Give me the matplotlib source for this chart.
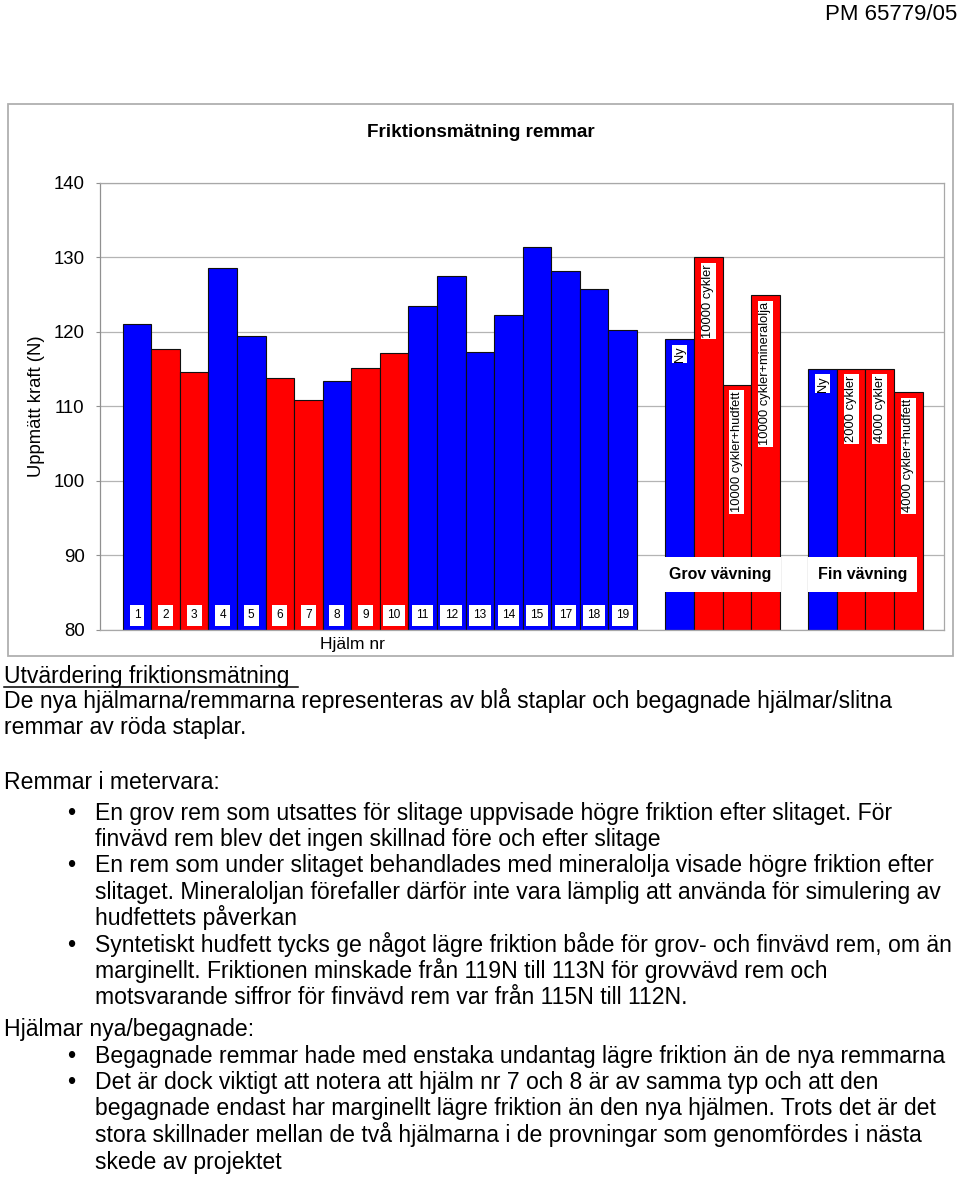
import matplotlib
matplotlib.use("Agg")
import matplotlib.pyplot as plt
from matplotlib.patches import Rectangle
from matplotlib.lines import Line2D

plt.rcParams['font.family'] = ['Liberation Sans', 'DejaVu Sans']

# --- data -------------------------------------------------------------
helmet_labels = ["1", "2", "3", "4", "5", "6", "7", "8", "9", "10",
                 "11", "12", "13", "14", "15", "17", "18", "19"]
helmet_values = [121.1, 117.7, 114.6, 128.6, 119.4, 113.8, 110.8, 113.4, 115.1,
                 117.2, 123.5, 127.5, 117.3, 122.3, 131.4, 128.2, 125.8, 120.3]
helmet_used = [0, 1, 1, 0, 0, 1, 1, 0, 1, 1, 0, 0, 0, 0, 0, 0, 0, 0]

grov_labels = ["Ny", "10000 cykler", "10000 cykler+hudfett", "10000 cykler+mineralolja"]
grov_values = [119.0, 130.0, 112.9, 124.9]
grov_used = [0, 1, 1, 1]

fin_labels = ["Ny", "2000 cykler", "4000 cykler", "4000 cykler+hudfett"]
fin_values = [115.0, 115.0, 115.0, 111.9]
fin_used = [0, 1, 1, 1]

yticks = [80, 90, 100, 110, 120, 130, 140]

BLUE = '#0000ff'
RED = '#ff0000'
GRID = '#b4b4b4'

W, H = 960, 1179


def fx(x):
    return x / W


def fy(y):
    return 1 - y / H


fig = plt.figure(figsize=(W / 100, H / 100), dpi=100)

# outer chart frame
fig.add_artist(Rectangle((fx(8), fy(656)), fx(953) - fx(8), fy(104) - fy(656),
                         transform=fig.transFigure, fill=False,
                         edgecolor='#b0b0b0', linewidth=1.3))

ax = fig.add_axes([fx(100), fy(630), fx(944) - fx(100), fy(182.7) - fy(630)])

# positions: helmets, one empty slot, coarse group, one empty slot, fine group
pos_helmet = list(range(len(helmet_values)))
start = len(helmet_values) + 1
pos_grov = list(range(start, start + len(grov_values)))
start = pos_grov[-1] + 2
pos_fin = list(range(start, start + len(fin_values)))

def colors(used):
    return [RED if u else BLUE for u in used]

for pos, vals, used in [(pos_helmet, helmet_values, helmet_used),
                        (pos_grov, grov_values, grov_used),
                        (pos_fin, fin_values, fin_used)]:
    ax.bar(pos, [v - 80 for v in vals], bottom=80, width=1.0,
           color=colors(used), edgecolor='#101010', linewidth=0.8, zorder=2)

# helmet number labels at bar base
for p, lab in zip(pos_helmet, helmet_labels):
    ax.text(p, 81.95, lab, ha='center', va='center', fontsize=8.6, zorder=4,
            bbox=dict(boxstyle='square,pad=0.35', facecolor='white', edgecolor='none'))

# rotated labels at bar top
for pos, vals, labs in [(pos_grov, grov_values, grov_labels),
                        (pos_fin, fin_values, fin_labels)]:
    for p, v, lab in zip(pos, vals, labs):
        ax.annotate(lab, (p, v), xytext=(0, -5), textcoords='offset points',
                    rotation=90, ha='center', va='top', fontsize=9.3, zorder=4,
                    bbox=dict(boxstyle='square,pad=0.12', facecolor='white',
                              edgecolor='none'))

# group captions
for pos, name in [(pos_grov, "Grov vävning"), (pos_fin, "Fin vävning")]:
    xc = (pos[0] + pos[-1]) / 2 - 0.1
    ax.text(xc, 87.45, name, ha='center', va='center', fontsize=11.5,
            fontweight='bold', zorder=4,
            bbox=dict(boxstyle='square,pad=0.6', facecolor='white', edgecolor='none'))

ax.text(7.55, 79.0, "Hjälm nr", ha='center', va='top', fontsize=12.6)

ax.set_ylim(80, 140)
ax.set_yticks(yticks)
ax.set_xlim(-1.295, 28.25)
ax.set_xticks([])
ax.tick_params(axis='y', direction='out', length=3, width=0.8, color='#909090',
               labelsize=13.4, pad=8)
ax.yaxis.grid(True, color=GRID, linewidth=0.9, zorder=0)
ax.set_axisbelow(True)
for s in ax.spines.values():
    s.set_color('#a8a8a8')
    s.set_linewidth(0.9)
ax.spines['left'].set_color('#909090')
ax.set_ylabel("Uppmätt kraft (N)", fontsize=13.3, labelpad=6)

fig.text(fx(481), fy(136.7), "Friktionsmätning remmar", ha='center',
         va='baseline', fontsize=13.6, fontweight='bold')

fig.text(fx(957), fy(19.5), "PM 65779/05", ha='right', va='baseline', fontsize=16)

# --- evaluation text below the chart ---------------------------------
body = [
    (682.7, 0, False, "Utvärdering friktionsmätning "),
    (708.3, 0, False, "De nya hjälmarna/remmarna representeras av blå staplar och begagnade hjälmar/slitna"),
    (734.0, 0, False, "remmar av röda staplar."),
    (789.3, 0, False, "Remmar i metervara:"),
    (820.0, 1, True, "En grov rem som utsattes för slitage uppvisade högre friktion efter slitaget. För"),
    (845.7, 1, False, "finvävd rem blev det ingen skillnad före och efter slitage"),
    (872.3, 1, True, "En rem som under slitaget behandlades med mineralolja visade högre friktion efter"),
    (899.0, 1, False, "slitaget. Mineraloljan förefaller därför inte vara lämplig att använda för simulering av"),
    (925.0, 1, False, "hudfettets påverkan"),
    (951.7, 1, True, "Syntetiskt hudfett tycks ge något lägre friktion både för grov- och finvävd rem, om än"),
    (978.3, 1, False, "marginellt. Friktionen minskade från 119N till 113N för grovvävd rem och"),
    (1004.3, 1, False, "motsvarande siffror för finvävd rem var från 115N till 112N."),
    (1036.0, 0, False, "Hjälmar nya/begagnade:"),
    (1062.7, 1, True, "Begagnade remmar hade med enstaka undantag lägre friktion än de nya remmarna"),
    (1089.3, 1, True, "Det är dock viktigt att notera att hjälm nr 7 och 8 är av samma typ och att den"),
    (1115.3, 1, False, "begagnade endast har marginellt lägre friktion än den nya hjälmen. Trots det är det"),
    (1142.3, 1, False, "stora skillnader mellan de två hjälmarna i de provningar som genomfördes i nästa"),
    (1169.3, 1, False, "skede av projektet"),
]
for y, indent, bullet, line in body:
    x = 95 if indent else 4
    fig.text(fx(x), fy(y), line, ha='left', va='baseline', fontsize=16.6)
    if bullet:
        fig.text(fx(67), fy(y), "•", ha='left', va='baseline', fontsize=17)

# underline of heading
fig.add_artist(Line2D([fx(4), fx(298)], [fy(686.8), fy(686.8)],
                      transform=fig.transFigure, color='black', linewidth=1.1))

fig.savefig("out.png", dpi=100)
